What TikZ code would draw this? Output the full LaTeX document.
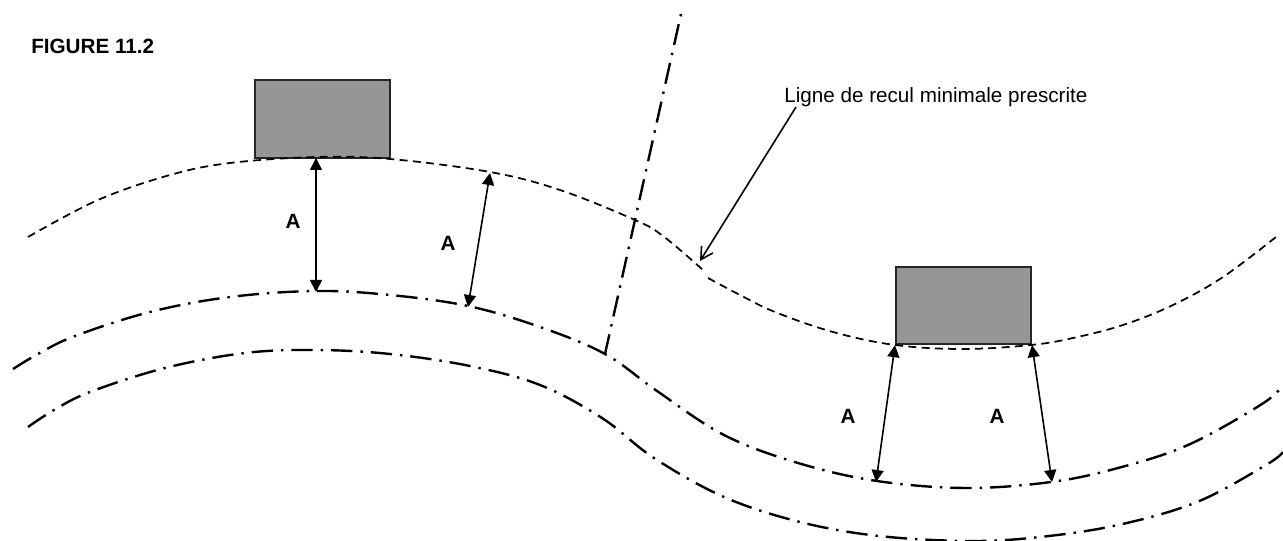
\documentclass[tikz,border=0pt]{standalone}
\usepackage{fontspec}
\setmainfont{Liberation Sans}
\usetikzlibrary{arrows.meta}

\begin{document}
\begin{tikzpicture}[x=0.75pt, y=-0.75pt, every node/.style={inner sep=0pt}]
\tikzstyle{batiment}=[draw=black!85,line width=1.5pt,fill=black!41,minimum width=101.25pt,minimum height=58pt]
\tikzstyle{recul}=[line width=1.3pt,dash pattern=on 6pt off 4pt]
\tikzstyle{route}=[line width=1.8pt,dash pattern=on 16pt off 6pt on 1.8pt off 6pt]
\tikzstyle{axe}=[line width=1.8pt,dash pattern=on 1.8pt off 6pt on 16pt off 6pt]
\tikzstyle{cote}=[line width=1.2pt,{Triangle[length=9pt,width=9pt]}-{Triangle[length=9pt,width=9pt]}]
\tikzstyle{lettre}=[font=\fontsize{15.5}{18}\selectfont\bfseries]

\useasboundingbox (0,0) rectangle (1283,541);

% batiments
\node[batiment] (B1) at (322.5,119) {};
\node[batiment] (B2) at (963.5,305.5) {};

% ligne de recul
\draw[recul] plot[smooth,tension=0.6] coordinates {(28,237) (98,200) (170,175) (230,163) (316,157) (390,159) (490,172) (560,190) (635,220) (663,236) (703,270)};
\draw[recul] plot[smooth,tension=0.6] coordinates {(708,278) (740,295) (775,312) (833,332) (895,345) (963,349) (1031,345) (1073,338) (1123,325) (1173,305) (1223,277) (1276,237)};

% routes
\draw[route] plot[smooth,tension=0.6] coordinates {(13,369) (38,354) (75,336) (150,312) (230,297) (316,291) (390,295) (468,306) (540,327) (605,354) (657,391) (724,435) (798,463) (877,481) (966,488) (1051,482) (1118,468) (1188,445) (1262,404) (1283,385)};
\draw[route] plot[smooth,tension=0.6] coordinates {(28,427) (54,410) (90,392) (165,368) (245,353) (316,350) (390,354) (470,366) (540,385) (602,418) (654,458) (724,497) (800,522) (879,536) (970,541) (1040,537) (1118,525) (1197,502) (1266,465) (1283,452)};

% ligne de division
\coordinate (D1) at (681,14);
\coordinate (D2) at (605,354);
\draw[axe] (D1) -- (D2);

% cotes A
\coordinate (A1) at (316,158);
\coordinate (A2) at (316,292);
\coordinate (A3) at (490,173);
\coordinate (A4) at (468,307);
\coordinate (A5) at (876,482);
\coordinate (A6) at (1052,482);
\draw[cote] (A1) -- (A2);
\draw[cote] (A3) -- (A4);
\draw[cote] (B2.south west) -- (A5);
\draw[cote] (B2.south east) -- (A6);

\node[lettre] (L1) at (293,221) {A};
\node[lettre] (L2) at (448,243) {A};
\node[lettre] (L3) at (848,416) {A};
\node[lettre] (L4) at (997,416) {A};

% titre et renvoi
\node[font=\fontsize{15.5}{18}\selectfont\bfseries,anchor=base west] (T) at (31,54) {FIGURE 11.2};
\node[font=\fontsize{15.5}{18}\selectfont,anchor=base west] (N) at (784,103) {Ligne de recul minimale prescrite};
\coordinate (C) at (700,261);
\draw[line width=1.2pt,-{Straight Barb[length=9pt,width=10pt]}] (796,107) -- (C);

\end{tikzpicture}
\end{document}
